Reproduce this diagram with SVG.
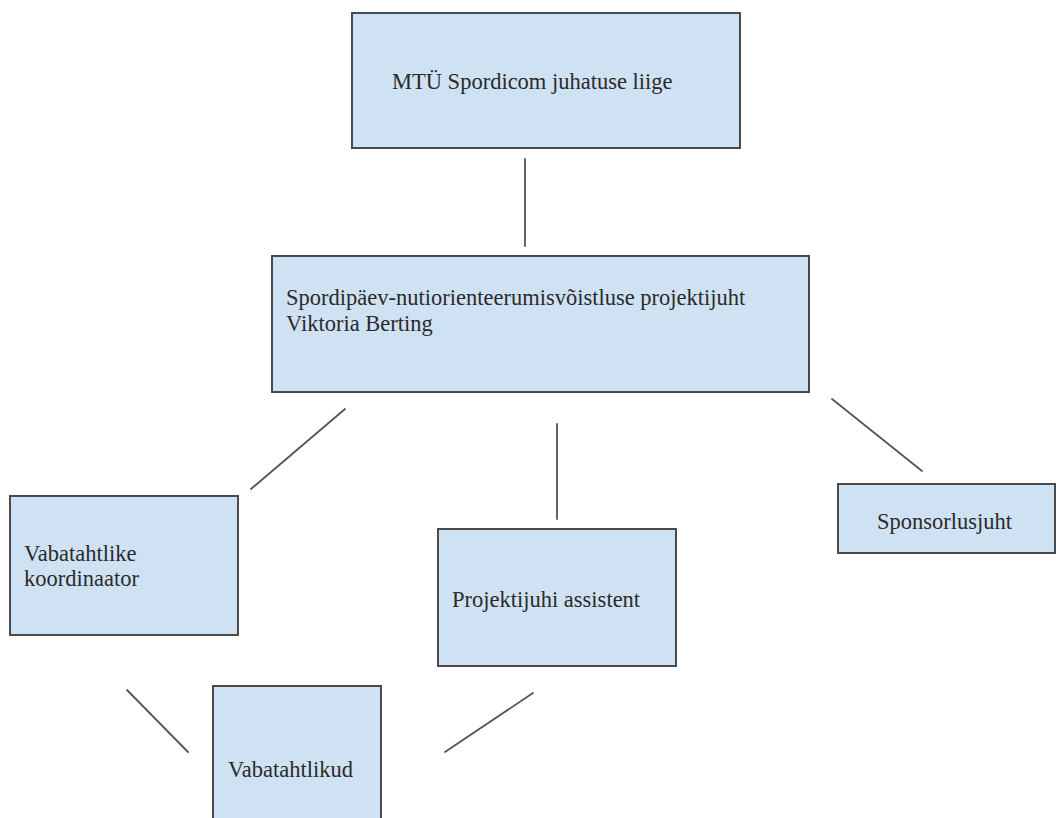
<svg xmlns="http://www.w3.org/2000/svg" width="1056" height="818" viewBox="0 0 1056 818">
  <style>
    .box { fill: #cfe2f3; stroke: #4a4a4a; stroke-width: 2; }
    .lbl { font-family: "Liberation Serif", "Times New Roman", serif; font-size: 22.5px; fill: #2a2a2a; }
    .conn line { stroke: #555; stroke-width: 1.8; stroke-linecap: round; }
  </style>
  <rect width="1056" height="818" fill="#ffffff"/>
  <g id="connectors" class="conn">
    <line x1="525" y1="159" x2="525" y2="246"/>
    <line x1="345" y1="409" x2="251" y2="489"/>
    <line x1="557" y1="424" x2="557" y2="519"/>
    <line x1="832" y1="399" x2="922" y2="471"/>
    <line x1="127" y1="690" x2="188" y2="752"/>
    <line x1="533" y1="693" x2="445" y2="752"/>
  </g>
  <g id="node-juhatus">
    <rect class="box" x="352" y="13" width="388" height="135"/>
    <text class="lbl" x="392" y="89">MTÜ Spordicom juhatuse liige</text>
  </g>
  <g id="node-projektijuht">
    <rect class="box" x="272" y="256" width="537" height="136"/>
    <text class="lbl" x="286" y="305">Spordipäev-nutiorienteerumisvõistluse projektijuht</text>
    <text class="lbl" x="286" y="331">Viktoria Berting</text>
  </g>
  <g id="node-koordinaator">
    <rect class="box" x="10" y="496" width="228" height="139"/>
    <text class="lbl" x="24" y="561">Vabatahtlike</text>
    <text class="lbl" x="24" y="586">koordinaator</text>
  </g>
  <g id="node-assistent">
    <rect class="box" x="438" y="529" width="238" height="137"/>
    <text class="lbl" x="452" y="607">Projektijuhi assistent</text>
  </g>
  <g id="node-sponsorlusjuht">
    <rect class="box" x="838" y="484" width="217" height="69"/>
    <text class="lbl" x="877" y="529">Sponsorlusjuht</text>
  </g>
  <g id="node-vabatahtlikud">
    <rect class="box" x="213" y="686" width="168" height="140"/>
    <text class="lbl" x="228" y="777">Vabatahtlikud</text>
  </g>
</svg>
